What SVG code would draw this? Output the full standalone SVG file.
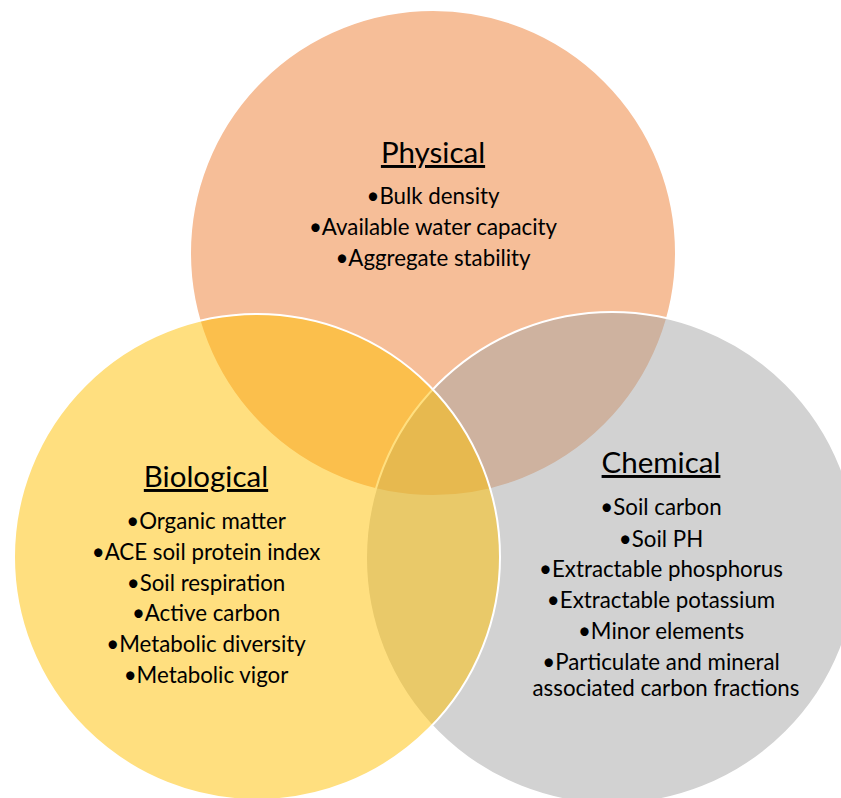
<svg xmlns="http://www.w3.org/2000/svg" width="841" height="798" viewBox="0 0 841 798">
<style>
.c{stroke:#FFFFFF;stroke-width:2;fill-opacity:0.5}
text{font-family:Lato,"Liberation Sans",sans-serif;fill:#000000;text-anchor:middle}
.t{font-size:29.5px;text-decoration:underline}
.b{font-size:22.3px}
</style>
<rect width="841" height="798" fill="#FFFFFF"/>
<g id="physical">
<circle class="c" cx="433" cy="253" r="243" fill="#ED7D31"/>
</g>
<g id="chemical">
<circle class="c" cx="612" cy="558" r="246" fill="#A5A5A5"/>
</g>
<g id="biological">
<circle class="c" cx="257" cy="557" r="243" fill="#FFC000"/>
</g>
<g id="connectors"></g>
<g id="physical-text">
<text class="t" x="433" y="163">Physical</text>
<text class="b" x="433" y="204">•Bulk density</text>
<text class="b" x="433" y="235">•Available water capacity</text>
<text class="b" x="433" y="266">•Aggregate stability</text>
</g>
<g id="biological-text">
<text class="t" x="206" y="487">Biological</text>
<text class="b" x="206" y="529">•Organic matter</text>
<text class="b" x="206" y="560">•ACE soil protein index</text>
<text class="b" x="206" y="591">•Soil respiration</text>
<text class="b" x="206" y="621">•Active carbon</text>
<text class="b" x="206" y="652">•Metabolic diversity</text>
<text class="b" x="206" y="683">•Metabolic vigor</text>
</g>
<g id="chemical-text">
<text class="t" x="661" y="473">Chemical</text>
<text class="b" x="661" y="515">•Soil carbon</text>
<text class="b" x="661" y="547">•Soil PH</text>
<text class="b" x="661" y="577">•Extractable phosphorus</text>
<text class="b" x="661" y="608">•Extractable potassium</text>
<text class="b" x="661" y="639">•Minor elements</text>
<text class="b" x="661" y="670">•Particulate and mineral</text>
<text class="b" x="666" y="696">associated carbon fractions</text>
</g>
</svg>
